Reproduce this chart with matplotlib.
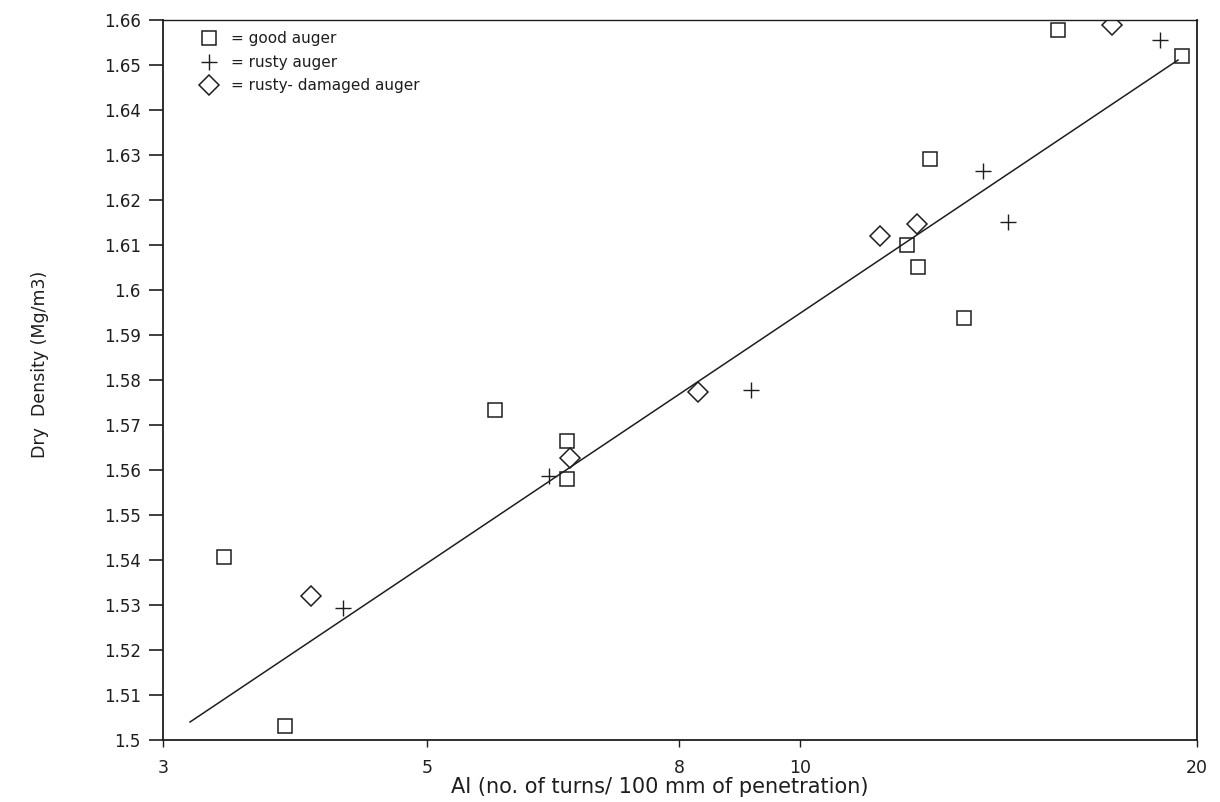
import numpy as np
import matplotlib
matplotlib.use('Agg')
import matplotlib.pyplot as plt

# readings from the scanned chart
good_x = [3.376, 3.798, 5.674, 6.492, 6.492, 12.05, 12.29, 12.55, 13.31, 15.69, 19.49]
good_y = [1.5407, 1.5031, 1.5733, 1.5664, 1.558, 1.610, 1.6051, 1.6291, 1.5938, 1.6578, 1.652]

rusty_x = [4.25, 6.278, 9.143, 13.76, 14.38, 18.75]
rusty_y = [1.5293, 1.5587, 1.5778, 1.6264, 1.6151, 1.6556]

damaged_x = [3.995, 6.528, 8.284, 11.50, 12.27, 17.24]
damaged_y = [1.532, 1.5627, 1.5773, 1.612, 1.6147, 1.6589]

fit_x = [3.161, 19.35]
fit_y = [1.504, 1.6511]

x_ticks = [3, 5, 8, 10, 20]
# the scanned log axis is not quite even, so the ticks sit here (fraction of width)
x_tick_frac = [0.0, 0.2553, 0.499, 0.616, 1.0]
y_ticks = np.round(np.arange(1.50, 1.665, 0.01), 2)
y_labels = ['%g' % v for v in y_ticks]


def fwd(x):
    x = np.clip(np.asarray(x, dtype=float), 1e-6, None)
    return np.interp(np.log10(x), np.log10(x_ticks), x_tick_frac)


def inv(f):
    return 10 ** np.interp(f, x_tick_frac, np.log10(x_ticks))


plt.rcParams['font.family'] = ['DejaVu Sans']
ink = '#1e1e1e'

fig = plt.figure(figsize=(12.2, 8.02), dpi=100)
ax = fig.add_axes([0.1336, 0.0773, 0.8475, 0.8978])
ax.set_xscale('function', functions=(fwd, inv))

ax.plot(fit_x, fit_y, color=ink, lw=1.1)
ax.plot(good_x, good_y, ls='none', marker='s', ms=10.5, mfc='none', mec=ink, mew=1.1,
        label='= good auger')
ax.plot(rusty_x, rusty_y, ls='none', marker='+', ms=12, mec=ink, mew=1.0,
        label='= rusty auger')
ax.plot(damaged_x, damaged_y, ls='none', marker='D', ms=10, mfc='none', mec=ink, mew=1.1,
        label='= rusty- damaged auger')

ax.set_xlim(3, 20)
ax.set_ylim(1.5, 1.66)
ax.set_xticks(x_ticks)
ax.set_xticklabels([str(t) for t in x_ticks])
ax.minorticks_off()
ax.set_yticks(y_ticks)
ax.set_yticklabels(y_labels)

for s in ax.spines.values():
    s.set_linewidth(1.3)
    s.set_color(ink)
ax.spines['top'].set_linewidth(1.0)
ax.tick_params(axis='y', direction='out', length=10, width=1.2, pad=6,
               labelsize=12, colors=ink)
ax.tick_params(axis='x', direction='out', length=5, width=1.0, pad=9,
               labelsize=12.5, colors=ink)

ax.set_xlabel('AI (no. of turns/ 100 mm of penetration)', fontsize=15, color=ink)
ax.xaxis.set_label_coords(0.48, -0.051)
ax.set_ylabel('Dry  Density (Mg/m3)', fontsize=12.5, color=ink)
ax.yaxis.set_label_coords(-0.110, 0.522)

ax.legend(loc='upper left', bbox_to_anchor=(0.036, 0.984), frameon=False,
          fontsize=11, handlelength=1.2, handletextpad=0.8, labelspacing=0.55,
          borderpad=0, borderaxespad=0, labelcolor=ink)

fig.savefig('out.png', dpi=100)
